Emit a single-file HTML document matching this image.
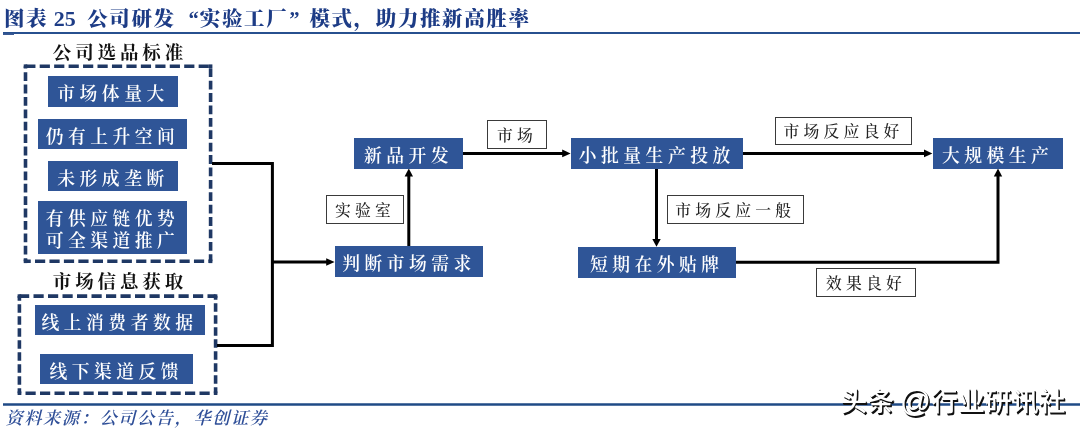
<!DOCTYPE html>
<html lang="zh-CN">
<head>
<meta charset="utf-8">
<title>图表 25</title>
<style>
html,body{margin:0;padding:0;background:#fff;}
body{width:1080px;height:430px;position:relative;overflow:hidden;will-change:transform;font-family:"Liberation Serif","Noto Serif CJK SC",serif;}
.abs{position:absolute;}
.title{left:4px;top:4.5px;height:28px;line-height:28px;font-size:20.5px;font-weight:900;color:#1d3c86;white-space:nowrap;letter-spacing:1.6px;}
.title .num{letter-spacing:0;font-size:22px;margin:0 11.5px 0 5.5px;}
.title .ql{margin-left:13px;letter-spacing:1px;}
.title .qr{margin-right:10px;margin-left:1px;letter-spacing:0;}
.rule{left:3px;right:0;height:2px;background:#2a5298;}
.hd{font-size:18.5px;font-weight:700;color:#111;white-space:nowrap;letter-spacing:3.9px;text-indent:3.9px;text-align:center;line-height:20px;}
.bb{background:#2f5597;color:#fff;font-size:17.8px;font-weight:600;letter-spacing:4.5px;text-align:center;white-space:nowrap;box-sizing:border-box;display:flex;align-items:center;justify-content:center;padding-top:2px;}
.wb{background:#fff;color:#222;border:1px solid #3a3a3a;font-size:15.8px;font-weight:500;letter-spacing:4.2px;text-align:center;white-space:nowrap;box-sizing:border-box;display:flex;align-items:center;justify-content:center;}
.src{left:5.5px;top:407.5px;font-size:17.2px;line-height:22px;font-style:italic;color:#2f4f98;letter-spacing:1.6px;white-space:nowrap;font-weight:600;}
.wm{left:840.5px;top:384.5px;font-family:"Liberation Sans","Noto Sans CJK SC",sans-serif;font-size:26.6px;line-height:34px;color:#fff;white-space:nowrap;font-weight:500;letter-spacing:0.3px;word-spacing:-2px;
 text-shadow:1px 1px 0 #111,1.5px 1.5px 0.3px #111;}
</style>
</head>
<body>
<div class="abs title">图表<span class="num">25</span>公司研发<span class="ql">“</span>实验工厂<span class="qr">”</span>模式，助力推新高胜率</div>

<div class="abs hd" style="left:24px;width:188px;top:43px;">公司选品标准</div>
<div class="abs hd" style="left:24px;width:188px;top:272px;">市场信息获取</div>

<svg class="abs" style="left:0;top:0;" width="1080" height="430" viewBox="0 0 1080 430">
  <g fill="none" stroke="#27508f">
    <path d="M3 33 H1080" stroke-width="2"/>
    <path d="M3 34.2 H14" stroke-width="1.6" stroke="#3a5a94"/>
    <path d="M3 404.4 H1080" stroke-width="2.5" stroke="#1f4a86"/>
  </g>
  <g fill="none" stroke="#1f3864" stroke-width="3.6">
    <path d="M25.5 66.2 H210.6" stroke-dasharray="10.2 4.25" stroke-dashoffset="0.25"/>
    <path d="M25.5 261.3 H210.6" stroke-dasharray="10.2 4.25" stroke-dashoffset="4.95"/>
    <path d="M25.5 66.2 V261.3" stroke-dasharray="8.8 3.6" stroke-dashoffset="6.4"/>
    <path d="M210.6 66.2 V261.3" stroke-dasharray="8.8 3.6" stroke-dashoffset="10.3"/>
    <path d="M19.4 296.1 H215.6" stroke-dasharray="10.2 4.3" stroke-dashoffset="0.4"/>
    <path d="M19.4 393.2 H215.6" stroke-dasharray="10.2 4.3" stroke-dashoffset="8.4"/>
    <path d="M19.4 296.1 V393.2" stroke-dasharray="8.5 3.5" stroke-dashoffset="3.8"/>
    <path d="M215.6 296.1 V393.2" stroke-dasharray="8.5 3.5" stroke-dashoffset="4.9"/>
  </g>
  <g fill="#1f3864">
    <rect x="23.7" y="64.4" width="3.6" height="3.6"/>
    <rect x="208.8" y="64.4" width="3.6" height="3.6"/>
    <rect x="23.7" y="259.5" width="3.6" height="3.6"/>
    <rect x="208.8" y="259.5" width="3.6" height="3.6"/>
    <rect x="17.6" y="294.3" width="3.6" height="3.6"/>
    <rect x="213.8" y="294.3" width="3.6" height="3.6"/>
    <rect x="17.6" y="391.4" width="3.6" height="3.6"/>
    <rect x="213.8" y="391.4" width="3.6" height="3.6"/>
  </g>
  <g fill="none" stroke="#000" stroke-width="3" stroke-linejoin="miter">
    <path d="M212 163.6 H272.4 V345.4 H217"/>
    <path d="M272 262 H328"/>
    <path d="M408.8 247 V175"/>
    <path d="M463 153.4 H564"/>
    <path d="M742 153.4 H926"/>
    <path d="M656.5 168 V240"/>
    <path d="M736 262.2 H998 V175"/>
  </g>
  <g fill="#000">
    <path d="M334.6 262 L326.2 258.2 V265.8 Z"/>
    <path d="M408.8 168.5 L404.6 176.4 H413 Z"/>
    <path d="M570.6 153.4 L562.2 149.6 V157.2 Z"/>
    <path d="M932.4 153.4 L924 149.6 V157.2 Z"/>
    <path d="M656.5 246.8 L652.3 238.9 H660.7 Z"/>
    <path d="M998 168.5 L993.8 176.4 H1002.2 Z"/>
  </g>
</svg>

<div class="abs bb" style="left:48px;top:76px;width:130px;height:30.5px;">市场体量大</div>
<div class="abs bb" style="left:38px;top:119px;width:149px;height:30px;">仍有上升空间</div>
<div class="abs bb" style="left:48px;top:161px;width:130px;height:30px;">未形成垄断</div>
<div class="abs bb" style="left:38px;top:201px;width:149px;height:52.5px;line-height:22px;white-space:normal;padding-top:5.5px;">有供应链优势<br>可全渠道推广</div>
<div class="abs bb" style="left:34.5px;top:305px;width:170px;height:30px;">线上消费者数据</div>
<div class="abs bb" style="left:39.5px;top:354px;width:153.5px;height:30px;">线下渠道反馈</div>

<div class="abs bb" style="left:354px;top:138px;width:109px;height:31px;">新品开发</div>
<div class="abs bb" style="left:335px;top:246px;width:148px;height:31px;">判断市场需求</div>
<div class="abs bb" style="left:571px;top:138px;width:171.5px;height:31px;">小批量生产投放</div>
<div class="abs bb" style="left:932.7px;top:138px;width:130px;height:31px;">大规模生产</div>
<div class="abs bb" style="left:577.5px;top:247px;width:158.5px;height:31px;">短期在外贴牌</div>

<div class="abs wb" style="left:326px;top:195px;width:78px;height:28.5px;">实验室</div>
<div class="abs wb" style="left:487.4px;top:120px;width:59.3px;height:28.6px;">市场</div>
<div class="abs wb" style="left:774.6px;top:116.7px;width:137.8px;height:28.3px;">市场反应良好</div>
<div class="abs wb" style="left:667px;top:195px;width:136.5px;height:28.5px;">市场反应一般</div>
<div class="abs wb" style="left:816px;top:268.3px;width:100px;height:28.3px;">效果良好</div>

<div class="abs src">资料来源：公司公告，华创证券</div>
<div class="abs wm">头条 <span style="font-size:30.5px;line-height:0;position:relative;top:1px;">@</span>行业研讯社</div>
</body>
</html>
